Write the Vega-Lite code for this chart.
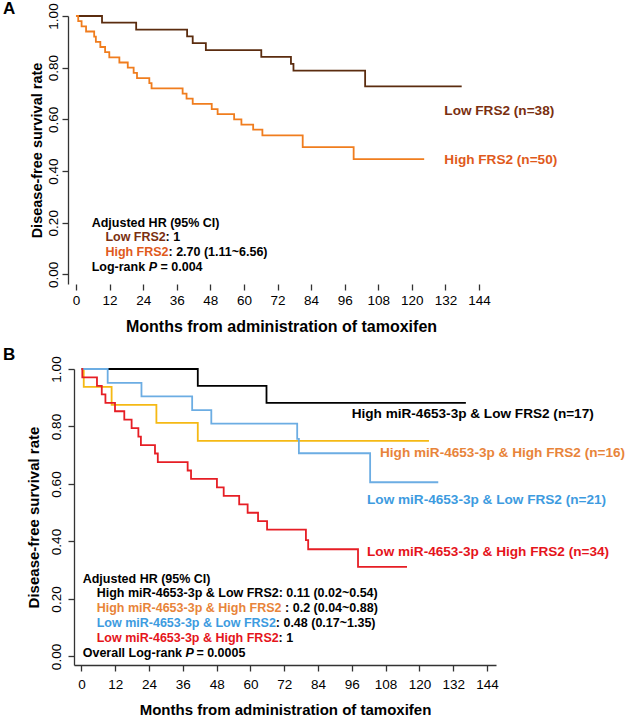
{
  "$schema": "https://vega.github.io/schema/vega-lite/v6.json",
  "background": "white",
  "padding": {"left": 2, "top": 0, "right": 0, "bottom": 0},
  "config": {
    "view": {"stroke": null},
    "font": "Liberation Sans",
    "axis": {"grid": false, "domainColor": "#333333", "tickColor": "#333333", "domainWidth": 1.3, "tickWidth": 1.3, "labelColor": "#000000", "titleColor": "#000000", "labelFont": "Liberation Sans", "titleFont": "Liberation Sans", "titleFontWeight": "bold", "labelFontWeight": "normal"}
  },
  "resolve": {"scale": {"color": "independent"}},
  "datasets": {
    "curvesA": [
      {"g": "Low FRS2", "m": 0, "s": 1},
      {"g": "Low FRS2", "m": 9.3, "s": 0.974},
      {"g": "Low FRS2", "m": 21.5, "s": 0.947},
      {"g": "Low FRS2", "m": 39.7, "s": 0.921},
      {"g": "Low FRS2", "m": 41.7, "s": 0.895},
      {"g": "Low FRS2", "m": 46.4, "s": 0.868},
      {"g": "Low FRS2", "m": 66.2, "s": 0.842},
      {"g": "Low FRS2", "m": 76.8, "s": 0.815},
      {"g": "Low FRS2", "m": 77.7, "s": 0.789},
      {"g": "Low FRS2", "m": 103.3, "s": 0.728},
      {"g": "Low FRS2", "m": 137.8, "s": 0.728},
      {"g": "High FRS2", "m": 0, "s": 1},
      {"g": "High FRS2", "m": 0.8, "s": 0.98},
      {"g": "High FRS2", "m": 2.0, "s": 0.96},
      {"g": "High FRS2", "m": 3.6, "s": 0.94},
      {"g": "High FRS2", "m": 6.5, "s": 0.92},
      {"g": "High FRS2", "m": 7.1, "s": 0.90},
      {"g": "High FRS2", "m": 8.7, "s": 0.88},
      {"g": "High FRS2", "m": 10.4, "s": 0.86},
      {"g": "High FRS2", "m": 11.9, "s": 0.84},
      {"g": "High FRS2", "m": 15.5, "s": 0.82},
      {"g": "High FRS2", "m": 18.5, "s": 0.80},
      {"g": "High FRS2", "m": 20.6, "s": 0.78},
      {"g": "High FRS2", "m": 21.8, "s": 0.76},
      {"g": "High FRS2", "m": 26.2, "s": 0.74},
      {"g": "High FRS2", "m": 27.0, "s": 0.72},
      {"g": "High FRS2", "m": 38.1, "s": 0.70},
      {"g": "High FRS2", "m": 39.5, "s": 0.68},
      {"g": "High FRS2", "m": 41.7, "s": 0.66},
      {"g": "High FRS2", "m": 48.5, "s": 0.64},
      {"g": "High FRS2", "m": 50.6, "s": 0.62},
      {"g": "High FRS2", "m": 56.5, "s": 0.60},
      {"g": "High FRS2", "m": 59.1, "s": 0.58},
      {"g": "High FRS2", "m": 63.3, "s": 0.56},
      {"g": "High FRS2", "m": 66.6, "s": 0.538},
      {"g": "High FRS2", "m": 81.0, "s": 0.493},
      {"g": "High FRS2", "m": 99.2, "s": 0.446},
      {"g": "High FRS2", "m": 124.4, "s": 0.446}
    ],
    "textA": [
      {"k": "letter", "m": -26.1, "s": 1.026, "t": "A", "g": "k"},
      {"k": "legend", "m": 131.6, "s": 0.631, "t": "Low FRS2 (n=38)", "g": "lowT"},
      {"k": "legend", "m": 131.6, "s": 0.441, "t": "High FRS2 (n=50)", "g": "highT"},
      {"k": "note", "m": 5.6, "s": 0.199, "t": "Adjusted HR (95% CI)", "g": "k"},
      {"k": "note", "m": 10.5, "s": 0.143, "t": "Low FRS2", "g": "lowT"},
      {"k": "note", "m": 32.0, "s": 0.143, "t": ": 1", "g": "k"},
      {"k": "note", "m": 10.5, "s": 0.086, "t": "High FRS2", "g": "highT"},
      {"k": "note", "m": 33.05, "s": 0.086, "t": ": 2.70 (1.11~6.56)", "g": "k"},
      {"k": "note", "m": 5.6, "s": 0.027, "t": "Log-rank", "g": "k"},
      {"k": "p", "m": 25.98, "s": 0.027, "t": "P", "g": "k"},
      {"k": "note", "m": 30.2, "s": 0.027, "t": "= 0.004", "g": "k"}
    ],
    "curvesB": [
      {"g": "bk", "m": 0, "s": 1},
      {"g": "bk", "m": 41.3, "s": 0.941},
      {"g": "bk", "m": 65.7, "s": 0.882},
      {"g": "bk", "m": 136.5, "s": 0.882},
      {"g": "yl", "m": 0, "s": 1},
      {"g": "yl", "m": 0.8, "s": 0.9375},
      {"g": "yl", "m": 10.7, "s": 0.875},
      {"g": "yl", "m": 26.6, "s": 0.8125},
      {"g": "yl", "m": 41.3, "s": 0.75},
      {"g": "yl", "m": 123.4, "s": 0.75},
      {"g": "bl", "m": 0, "s": 1},
      {"g": "bl", "m": 9.3, "s": 0.952},
      {"g": "bl", "m": 21.3, "s": 0.905},
      {"g": "bl", "m": 39.3, "s": 0.857},
      {"g": "bl", "m": 46.1, "s": 0.810},
      {"g": "bl", "m": 76.6, "s": 0.757},
      {"g": "bl", "m": 77.2, "s": 0.707},
      {"g": "bl", "m": 102.5, "s": 0.606},
      {"g": "bl", "m": 126.7, "s": 0.606},
      {"g": "rd", "m": 0, "s": 1},
      {"g": "rd", "m": 0.3, "s": 0.971},
      {"g": "rd", "m": 5.5, "s": 0.941},
      {"g": "rd", "m": 7.2, "s": 0.912},
      {"g": "rd", "m": 8.5, "s": 0.882},
      {"g": "rd", "m": 11.9, "s": 0.853},
      {"g": "rd", "m": 15.2, "s": 0.824},
      {"g": "rd", "m": 17.8, "s": 0.794},
      {"g": "rd", "m": 20.2, "s": 0.765},
      {"g": "rd", "m": 21.1, "s": 0.735},
      {"g": "rd", "m": 26.1, "s": 0.706},
      {"g": "rd", "m": 27.1, "s": 0.676},
      {"g": "rd", "m": 37.7, "s": 0.647},
      {"g": "rd", "m": 38.9, "s": 0.618},
      {"g": "rd", "m": 48.1, "s": 0.588},
      {"g": "rd", "m": 50.5, "s": 0.559},
      {"g": "rd", "m": 56.0, "s": 0.529},
      {"g": "rd", "m": 59.0, "s": 0.500},
      {"g": "rd", "m": 62.7, "s": 0.471},
      {"g": "rd", "m": 65.9, "s": 0.441},
      {"g": "rd", "m": 79.7, "s": 0.405},
      {"g": "rd", "m": 80.5, "s": 0.373},
      {"g": "rd", "m": 98.2, "s": 0.312},
      {"g": "rd", "m": 115.6, "s": 0.312}
    ],
    "textB": [
      {"k": "letter", "m": -27.9, "s": 1.049, "t": "B", "g": "k"},
      {"k": "legend", "m": 95.95, "s": 0.842, "t": "High miR-4653-3p & Low FRS2 (n=17)", "g": "k"},
      {"k": "legend", "m": 106.0, "s": 0.709, "t": "High miR-4653-3p & High FRS2 (n=16)", "g": "orT"},
      {"k": "legend", "m": 101.4, "s": 0.544, "t": "Low miR-4653-3p & Low FRS2 (n=21)", "g": "blT"},
      {"k": "legend", "m": 101.4, "s": 0.365, "t": "Low miR-4653-3p & High FRS2 (n=34)", "g": "rdT"},
      {"k": "note", "m": 0.43, "s": 0.270, "t": "Adjusted HR (95% CI)", "g": "k"},
      {"k": "note", "m": 5.4, "s": 0.220, "t": "High miR-4653-3p & Low FRS2: 0.11 (0.02~0.54)", "g": "k"},
      {"k": "note", "m": 5.4, "s": 0.168, "t": "High miR-4653-3p & High FRS2", "g": "orT"},
      {"k": "note", "m": 72.3, "s": 0.168, "t": ": 0.2 (0.04~0.88)", "g": "k"},
      {"k": "note", "m": 5.4, "s": 0.115, "t": "Low miR-4653-3p & Low FRS2", "g": "blT"},
      {"k": "note", "m": 69.0, "s": 0.115, "t": ": 0.48 (0.17~1.35)", "g": "k"},
      {"k": "note", "m": 5.4, "s": 0.063, "t": "Low miR-4653-3p & High FRS2", "g": "rdT"},
      {"k": "note", "m": 70.0, "s": 0.063, "t": ": 1", "g": "k"},
      {"k": "note", "m": 0.43, "s": 0.013, "t": "Overall Log-rank", "g": "k"},
      {"k": "p", "m": 36.9, "s": 0.013, "t": "P", "g": "k"},
      {"k": "note", "m": 40.8, "s": 0.013, "t": "= 0.0005", "g": "k"}
    ]
  },
  "concat": [
    {
      "width": 414,
      "height": 268,
      "encoding": {
        "x": {"field": "m", "type": "quantitative", "scale": {"domain": [-0.71, 147.2], "nice": false, "zero": false},
              "axis": {"values": [0, 12, 24, 36, 48, 60, 72, 84, 96, 108, 120, 132, 144], "domain": false, "tickSize": 6, "labelFontSize": 13.5, "labelPadding": 3, "titleFontSize": 16, "titlePadding": 12, "labelFlush": false, "labelOverlap": false},
              "title": "Months from administration of tamoxifen"},
        "y": {"field": "s", "type": "quantitative", "scale": {"domain": [-0.037, 1.0], "nice": false, "zero": false},
              "axis": {"values": [0, 0.2, 0.4, 0.6, 0.8, 1.0], "format": ".2f", "offset": 6, "tickSize": 6, "labelFontSize": 13.5, "labelAngle": 270, "labelAlign": "center", "labelBaseline": "bottom", "labelPadding": 2, "titleFontSize": 14.5, "titlePadding": 2, "labelFlush": false, "labelOverlap": false},
              "title": "Disease-free survival rate"},
        "color": {"field": "g", "type": "nominal", "scale": {"domain": ["Low FRS2", "High FRS2", "lowT", "highT", "k"], "range": ["#5b2c0f", "#f07d1e", "#7a2f10", "#e05a1c", "#000000"]}, "legend": null}
      },
      "layer": [
        {
          "mark": {"type": "rule", "color": "#333333", "strokeWidth": 1.3},
          "encoding": {"x": {"datum": -2.86}, "x2": {"datum": 147.2}, "y": {"datum": -0.037}, "color": {"value": "#333333"}}
        },
        {
          "data": {"name": "curvesA"},
          "mark": {"type": "line", "interpolate": "step-after", "strokeWidth": 1.8}
        },
        {
          "data": {"name": "textA"},
          "transform": [{"filter": "datum.k == 'note'"}],
          "mark": {"type": "text", "align": "left", "baseline": "middle", "fontSize": 12.5, "fontWeight": "bold"},
          "encoding": {"text": {"field": "t"}}
        },
        {
          "data": {"name": "textA"},
          "transform": [{"filter": "datum.k == 'p'"}],
          "mark": {"type": "text", "align": "left", "baseline": "middle", "fontSize": 12.5, "fontWeight": "bold", "fontStyle": "italic"},
          "encoding": {"text": {"field": "t"}}
        },
        {
          "data": {"name": "textA"},
          "transform": [{"filter": "datum.k == 'legend'"}],
          "mark": {"type": "text", "align": "left", "baseline": "middle", "fontSize": 13.6, "fontWeight": "bold"},
          "encoding": {"text": {"field": "t"}}
        },
        {
          "data": {"name": "textA"},
          "transform": [{"filter": "datum.k == 'letter'"}],
          "mark": {"type": "text", "align": "left", "baseline": "middle", "fontSize": 17, "fontWeight": "bold"},
          "encoding": {"text": {"field": "t"}}
        }
      ]
    },
    {
      "width": 422,
      "height": 296,
      "encoding": {
        "x": {"field": "m", "type": "quantitative", "scale": {"domain": [-2.66, 147.2], "nice": false, "zero": false},
              "axis": {"values": [0, 12, 24, 36, 48, 60, 72, 84, 96, 108, 120, 132, 144], "tickSize": 6, "labelFontSize": 13.5, "labelPadding": 6, "titleFontSize": 15, "titlePadding": 12, "labelFlush": false, "labelOverlap": false},
              "title": "Months from administration of tamoxifen"},
        "y": {"field": "s", "type": "quantitative", "scale": {"domain": [-0.0296, 1.0], "nice": false, "zero": false},
              "axis": {"values": [0, 0.2, 0.4, 0.6, 0.8, 1.0], "format": ".2f", "tickSize": 6, "labelFontSize": 13.5, "labelAngle": 270, "labelAlign": "center", "labelBaseline": "bottom", "labelPadding": 5, "titleFontSize": 15, "titlePadding": 8, "labelFlush": false, "labelOverlap": false},
              "title": "Disease-free survival rate"},
        "color": {"field": "g", "type": "nominal", "scale": {"domain": ["bk", "yl", "bl", "rd", "orT", "blT", "rdT", "k"], "range": ["#000000", "#f5b914", "#6cade3", "#e61e25", "#e8843a", "#3d9be0", "#e5141b", "#000000"]}, "legend": null}
      },
      "layer": [
        {
          "data": {"name": "curvesB"},
          "mark": {"type": "line", "interpolate": "step-after", "strokeWidth": 1.8}
        },
        {
          "data": {"name": "textB"},
          "transform": [{"filter": "datum.k == 'note'"}],
          "mark": {"type": "text", "align": "left", "baseline": "middle", "fontSize": 12.5, "fontWeight": "bold"},
          "encoding": {"text": {"field": "t"}}
        },
        {
          "data": {"name": "textB"},
          "transform": [{"filter": "datum.k == 'p'"}],
          "mark": {"type": "text", "align": "left", "baseline": "middle", "fontSize": 12.5, "fontWeight": "bold", "fontStyle": "italic"},
          "encoding": {"text": {"field": "t"}}
        },
        {
          "data": {"name": "textB"},
          "transform": [{"filter": "datum.k == 'legend'"}],
          "mark": {"type": "text", "align": "left", "baseline": "middle", "fontSize": 13.6, "fontWeight": "bold"},
          "encoding": {"text": {"field": "t"}}
        },
        {
          "data": {"name": "textB"},
          "transform": [{"filter": "datum.k == 'letter'"}],
          "mark": {"type": "text", "align": "left", "baseline": "middle", "fontSize": 17, "fontWeight": "bold"},
          "encoding": {"text": {"field": "t"}}
        }
      ]
    }
  ],
  "columns": 1,
  "spacing": 10
}
